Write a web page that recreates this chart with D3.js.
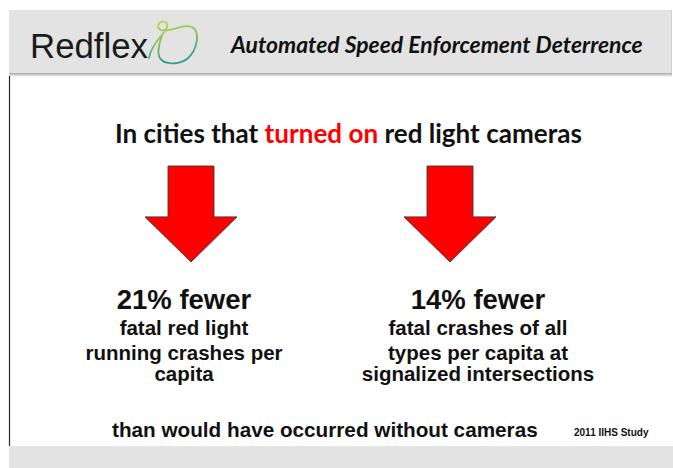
<!DOCTYPE html>
<html>
<head>
<meta charset="utf-8">
<script src="https://cdn.jsdelivr.net/npm/d3@7"></script>
<style>
  html, body { margin: 0; padding: 0; background: #ffffff; }
  svg { display: block; }
</style>
</head>
<body>
<svg id="chart" width="673" height="468"></svg>
<script>
// ---- data ----
const brand = "Redflex";
const headerTitle = "Automated Speed Enforcement Deterrence";
const titleParts = [
  { text: "In cities that ", red: false },
  { text: "turned on", red: true },
  { text: " red light cameras", red: false }
];
const statIds = ["redlight", "allcrash"];
const statValues = [21, 14];             // percent fewer
const statHeadline = ["21% fewer", "14% fewer"];
const statLines = [
  ["fatal red light", "running crashes per", "capita"],
  ["fatal crashes of all", "types per capita at", "signalized intersections"]
];
const footerText = "than would have occurred without cameras";
const sourceText = "2011 IIHS Study";

// ---- layout ----
const W = 673, H = 468;
const svg = d3.select("#chart");
const gray = "#e3e3e3";
const body = "'Liberation Sans', Arial, sans-serif";
const calib = "Lato, 'Open Sans', sans-serif";

const defs = svg.append("defs");
const sh = defs.append("linearGradient").attr("id", "shadow").attr("x1", 0).attr("y1", 0).attr("x2", 0).attr("y2", 1);
sh.append("stop").attr("offset", "0%").attr("stop-color", "#a8a8a8");
sh.append("stop").attr("offset", "100%").attr("stop-color", "#ffffff");
const lg = defs.append("linearGradient").attr("id", "loopgrad").attr("x1", 0).attr("y1", 0).attr("x2", 0.3).attr("y2", 1);
lg.append("stop").attr("offset", "0%").attr("stop-color", "#c2d83a");
lg.append("stop").attr("offset", "45%").attr("stop-color", "#8cc653");
lg.append("stop").attr("offset", "100%").attr("stop-color", "#2f9e86");

// header band
svg.append("rect").attr("x", 9).attr("y", 10).attr("width", 663).attr("height", 63).attr("fill", gray);
svg.append("rect").attr("x", 9).attr("y", 73).attr("width", 663).attr("height", 4).attr("fill", "url(#shadow)");
svg.append("line").attr("x1", 671.5).attr("x2", 671.5).attr("y1", 10).attr("y2", 73).attr("stroke", "#d0d0d0");

// left rule
svg.append("line").attr("x1", 9.5).attr("x2", 9.5).attr("y1", 76).attr("y2", 446)
  .attr("stroke", "#2a2a2a").attr("stroke-width", 1.2);

// bottom band
svg.append("rect").attr("x", 9).attr("y", 446).attr("width", 664).attr("height", 22).attr("fill", gray);

function fit(sel, target) {
  const fs = parseFloat(sel.attr("font-size"));
  const len = sel.node().getComputedTextLength();
  sel.attr("font-size", fs * target / len);
}

// brand
const bt = svg.append("text").attr("x", 30).attr("y", 58)
  .attr("font-family", body).attr("font-size", 30).attr("fill", "#1a1a1a")
  .text(brand);
fit(bt, 118);

// loop logo
svg.append("path")
  .attr("d", "M149,58 C150,50 156,42 161,36 C166,30 170,24 165,22 C159,20 155,28 161,30 C170,33 183,23 192,27 C201,32 197,51 187,59 C177,66 161,64 159,56 C157,49 160,41 162,36")
  .attr("fill", "none").attr("stroke", "url(#loopgrad)").attr("stroke-width", 1.8).attr("stroke-linecap", "round");

// header title
const ht = svg.append("text").attr("x", 231).attr("y", 53)
  .attr("font-family", calib).attr("font-weight", "bold").attr("font-style", "italic")
  .attr("font-size", 20).attr("fill", "#111").text(headerTitle);
fit(ht, 412);

// main title
const mt = svg.append("text").attr("x", 115).attr("y", 143)
  .attr("font-family", calib).attr("font-weight", "bold").attr("font-size", 22).attr("fill", "#111");
mt.selectAll("tspan").data(titleParts).join("tspan")
  .attr("fill", d => d.red ? "#ff0000" : "#111").text(d => d.text);
fit(mt, 467);

// arrows
const xArrow = d3.scalePoint().domain(statIds).range([191, 450]);
const xText = d3.scalePoint().domain(statIds).range([184, 478]);
const arrowY = d3.scaleLinear().domain([0, 1]).range([166, 262]);
const shaftHalf = 23, headHalf = 46, shoulder = 0.53;

const arrow = d3.line();
svg.selectAll("path.arrow").data(statIds).join("path")
  .attr("class", "arrow")
  .attr("d", id => {
    const c = xArrow(id);
    return arrow([
      [c - shaftHalf, arrowY(0)], [c + shaftHalf, arrowY(0)],
      [c + shaftHalf, arrowY(shoulder)], [c + headHalf, arrowY(shoulder)],
      [c, arrowY(1)],
      [c - headHalf, arrowY(shoulder)], [c - shaftHalf, arrowY(shoulder)]
    ]) + "Z";
  })
  .attr("fill", "#ff0000").attr("stroke", "#3a3a3a").attr("stroke-width", 0.9).attr("stroke-linejoin", "miter");

// stat texts
const lineY = [335, 360, 381];
statIds.forEach((id, i) => {
  const g = svg.append("g");
  g.append("text").attr("x", xText(id)).attr("y", 309).attr("text-anchor", "middle")
    .attr("font-family", body).attr("font-weight", "bold").attr("font-size", 27.5).attr("fill", "#111")
    .text(statHeadline[i]);
  g.selectAll("text.sub").data(statLines[i]).join("text").attr("class", "sub")
    .attr("x", xText(id)).attr("y", (d, j) => lineY[j]).attr("text-anchor", "middle")
    .attr("font-family", body).attr("font-weight", "bold").attr("font-size", 20.5).attr("fill", "#111")
    .text(d => d);
});

// footer
const ft = svg.append("text").attr("x", 112).attr("y", 437)
  .attr("font-family", body).attr("font-weight", "bold").attr("font-size", 20.5).attr("fill", "#111")
  .text(footerText);
fit(ft, 426);

svg.append("text").attr("x", 574).attr("y", 436)
  .attr("font-family", body).attr("font-weight", "bold").attr("font-size", 10).attr("fill", "#111")
  .text(sourceText);
</script>
</body>
</html>
